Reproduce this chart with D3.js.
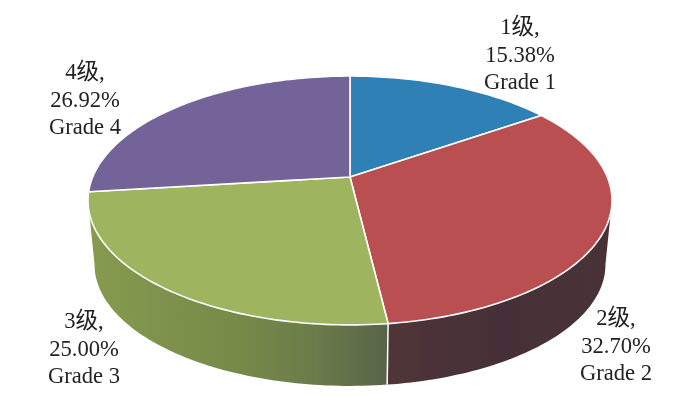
<!DOCTYPE html>
<html>
<head>
<meta charset="utf-8">
<script src="https://cdn.jsdelivr.net/npm/d3@7"></script>
<style>
    html, body { margin: 0; background: #fff; }
    text { font-family: "Liberation Serif", "Noto Sans CJK SC", serif; font-size: 22.6px; fill: #222; }
</style>
</head>
<body>
<div id="container"></div>
<script>
const grades = ["1级,", "2级,", "3级,", "4级,"]
const shares = [15.38, 32.70, 25.00, 26.92]
const english = ["Grade 1", "Grade 2", "Grade 3", "Grade 4"]
const topColors = ["#2e80b5", "#b94f51", "#9eb45e", "#736399"]

const width = 700
const height = 396

// tilted disc: apex is off the ellipse centre because of the perspective
const tilt = 0.1887
const rx = 257.3
const ry = 120
const apex = [350, 177]
const bottomScale = 0.975
const bottomApex = [350, 241.7]

function project(a, origin, scale) {
    const u = Math.sin(a)
    const v = -Math.cos(a)
    const w = 1 - tilt * v
    return [origin[0] + scale * rx * u / w, origin[1] + scale * ry * v / w]
}

function arcPoints(a0, a1, origin, scale) {
    const n = Math.max(2, Math.ceil((a1 - a0) / 0.02))
    return d3.range(n + 1).map(i => project(a0 + (a1 - a0) * i / n, origin, scale))
}

const line = d3.line()

const svg = d3.select("#container")
    .append("svg")
    .attr("width", width)
    .attr("height", height)

const defs = svg.append("defs")

defs.append("filter")
    .attr("id", "soft")
    .append("feGaussianBlur")
    .attr("stdDeviation", 0.35)

function sideGradient(id, x1, x2, stops) {
    const g = defs.append("linearGradient")
        .attr("id", id)
        .attr("gradientUnits", "userSpaceOnUse")
        .attr("x1", x1).attr("x2", x2)
        .attr("y1", 0).attr("y2", 0)
    stops.forEach(s => g.append("stop").attr("offset", s[0]).attr("stop-color", s[1]))
}

sideGradient("sideRed", 388, 610, [[0, "#503538"], [0.5, "#452f37"], [1, "#483236"]])
sideGradient("sideGreen", 94, 388, [[0, "#86994f"], [0.45, "#788c4a"], [0.75, "#6a7c49"], [1, "#58634a"]])

const slices = d3.pie().sort(null)(shares)

const group = svg.append("g").attr("filter", "url(#soft)")

// the visible wall runs between the two silhouette points of the disc
const wallStart = Math.PI - Math.acos(tilt)
const wallEnd = Math.PI + Math.acos(tilt)
const sideFill = { 1: "url(#sideRed)", 2: "url(#sideGreen)" }

group.append("g")
    .selectAll("path")
    .data(slices.filter(d => d.endAngle > wallStart && d.startAngle < wallEnd))
    .join("path")
    .attr("fill", d => sideFill[d.index])
    .attr("d", d => {
        const a0 = Math.max(d.startAngle, wallStart)
        const a1 = Math.min(d.endAngle, wallEnd)
        const upper = arcPoints(a0, a1, apex, 1)
        const lower = arcPoints(a0, a1, bottomApex, bottomScale).reverse()
        return line(upper.concat(lower)) + "Z"
    })

// white seams on the wall
group.append("g")
    .selectAll("line")
    .data(slices.filter(d => d.startAngle > wallStart && d.startAngle < wallEnd))
    .join("line")
    .attr("stroke", "#fff")
    .attr("stroke-width", 1.5)
    .attr("x1", d => project(d.startAngle, apex, 1)[0])
    .attr("y1", d => project(d.startAngle, apex, 1)[1])
    .attr("x2", d => project(d.startAngle, bottomApex, bottomScale)[0])
    .attr("y2", d => project(d.startAngle, bottomApex, bottomScale)[1])

group.append("g")
    .selectAll("path")
    .data(slices)
    .join("path")
    .attr("fill", d => topColors[d.index])
    .attr("stroke", "#fff")
    .attr("stroke-width", 1.6)
    .attr("stroke-linejoin", "round")
    .attr("d", d => line([apex].concat(arcPoints(d.startAngle, d.endAngle, apex, 1))) + "Z")

const labelAnchors = [[520, 34, 27.5], [616, 325, 27.5], [84, 328, 27.5], [85, 79, 27.5]]

const labels = group.append("g")
    .selectAll("text")
    .data(grades.map((g, i) => [g, shares[i].toFixed(2) + "%", english[i]]))
    .join("text")
    .attr("text-anchor", "middle")
    .attr("transform", (d, i) => `translate(${labelAnchors[i][0]},${labelAnchors[i][1]})`)

labels.selectAll("tspan")
    .data((d, i) => d.map((t, j) => ({ t, dy: j * labelAnchors[i][2] })))
    .join("tspan")
    .attr("x", 0)
    .attr("y", d => d.dy)
    .text(d => d.t)
</script>
</body>
</html>
